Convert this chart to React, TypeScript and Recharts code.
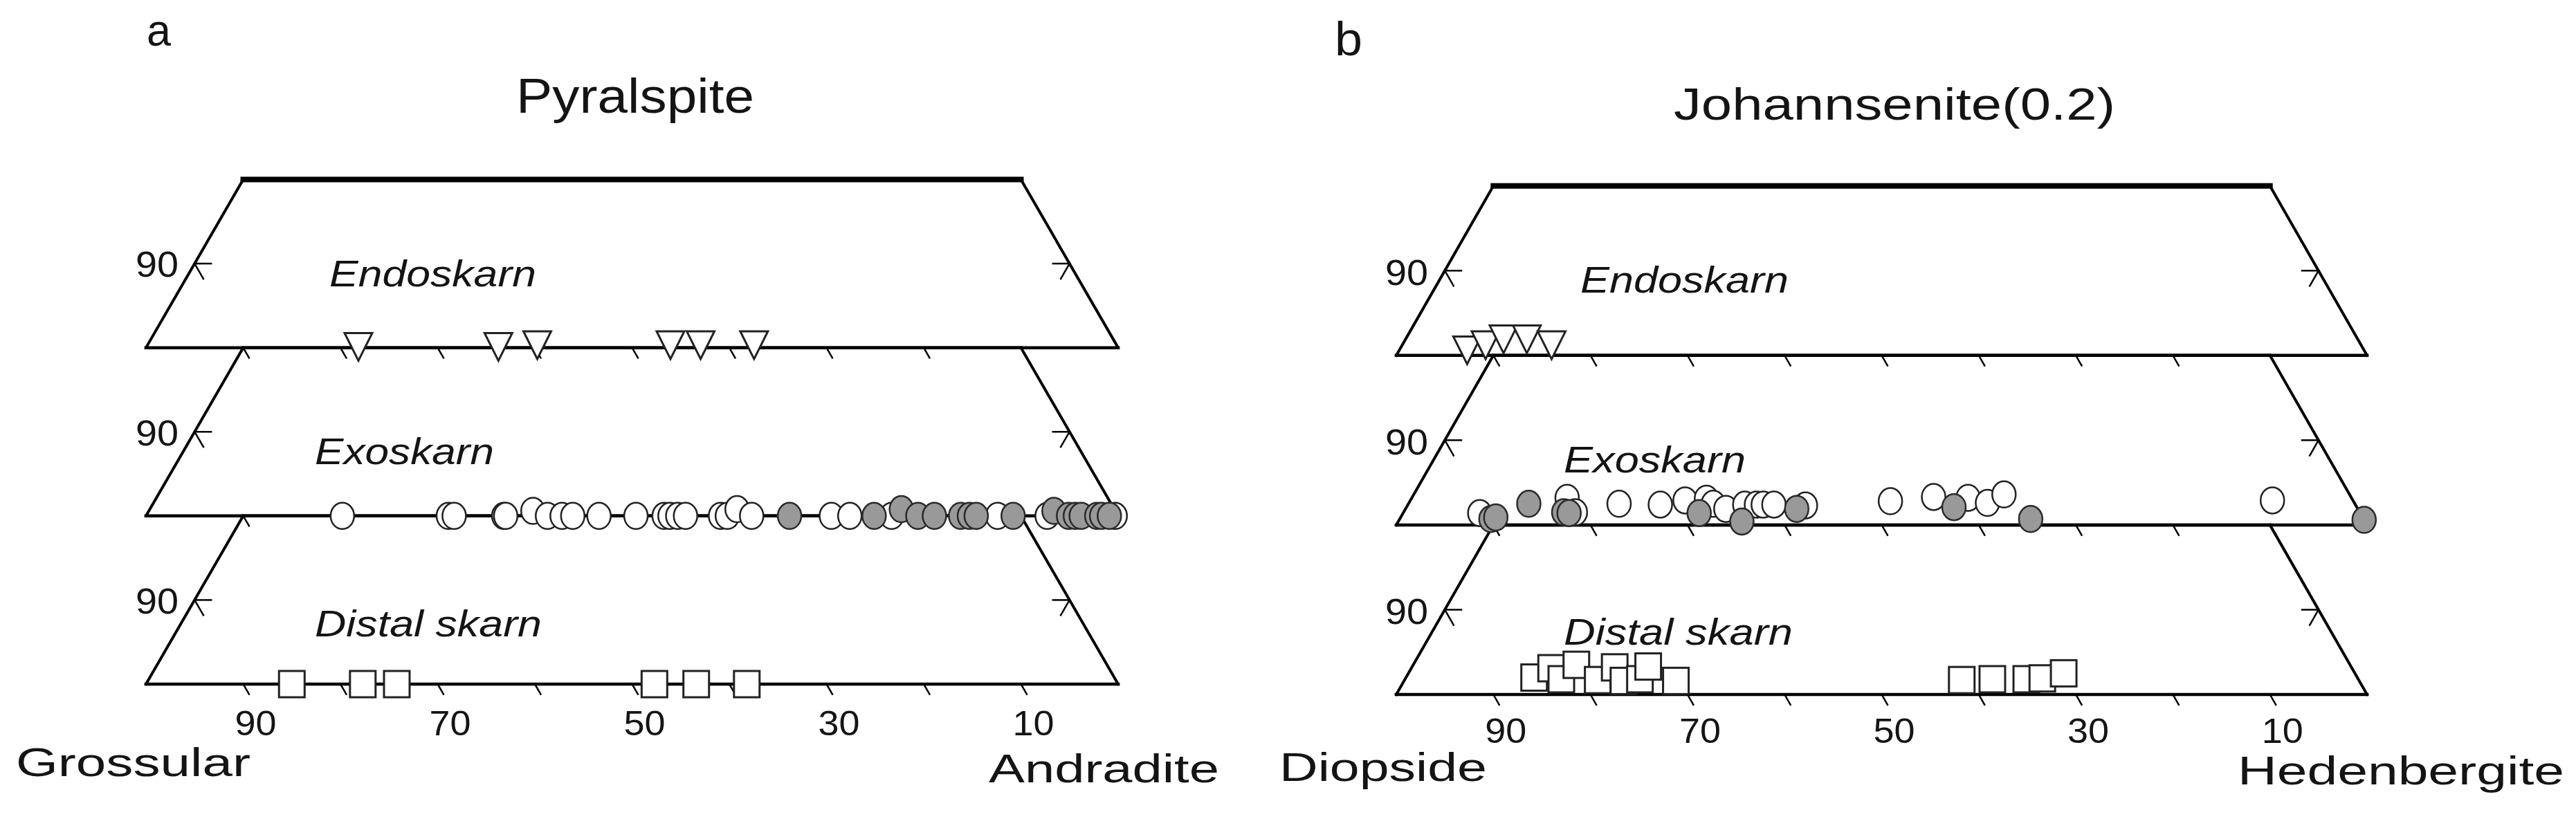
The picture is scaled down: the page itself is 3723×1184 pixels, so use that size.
import React from 'react';
import { ScatterChart, Scatter, XAxis, YAxis, ReferenceLine } from 'recharts';

const K = Math.sqrt(3) / 2;
const SLAB = 20; // apex percentage covered by one slab

// ---------- Panel a: garnet  [Grossular %, Pyralspite %] ----------
const grtEndoskarn = [[78.1, 0.1], [63.7, 0.1], [59.6, 0.3], [45.9, 0.3], [42.8, 0.3], [37.3, 0.3]];
const grtExoOpen = [
  [79.8, 0], [68.9, 0], [68.3, 0], [63.2, 0], [63.0, 0], [59.9, 0.6], [58.7, 0], [57.2, 0], [56.1, 0],
  [53.4, 0], [49.6, 0], [46.7, 0], [46.1, 0], [45.3, 0], [44.5, 0], [40.9, 0], [40.2, 0], [38.8, 0.8],
  [37.7, 0], [29.5, 0], [27.6, 0], [23.3, 0], [12.4, 0], [7.3, 0], [0.3, 0],
];
const grtExoGray = [
  [33.8, 0], [25.1, 0], [21.9, 0.8], [20.6, 0], [18.9, 0], [16.2, 0], [15.3, 0], [14.6, 0], [10.8, 0],
  [6.3, 0.6], [5.1, 0], [4.4, 0], [3.8, 0], [2.2, 0], [1.7, 0], [0.9, 0],
];
const grtDistal = [[85.0, 0], [77.7, 0], [74.2, 0], [47.7, 0], [43.4, 0], [38.2, 0]];

// ---------- Panel b: pyroxene  [Diopside %, Johannsenite %] ----------
const pxEndoskarn = [[92.4, 0.6], [90.2, 1.2], [88.0, 1.9], [85.6, 1.9], [83.4, 1.2]];
const pxExoOpen = [
  [90.7, 1.4], [80.8, 3.2], [80.8, 1.5], [75.8, 2.5], [71.6, 2.4], [68.8, 2.9], [66.5, 3.1], [66.1, 2.5],
  [65.1, 1.9], [62.9, 2.4], [61.7, 2.4], [61.0, 2.4], [59.9, 2.4], [56.7, 2.3], [47.7, 2.8], [43.0, 3.3],
  [39.5, 3.2], [37.8, 2.6], [35.6, 3.6], [8.3, 2.9],
];
const pxExoGray = [
  [89.9, 0.7], [89.3, 0.9], [85.1, 2.5], [82.0, 1.5], [81.5, 1.4], [68.1, 1.4], [64.2, 0.4], [57.8, 1.9],
  [41.5, 2.1], [34.3, 0.7], [0, 0.6],
];
const pxDistal = [
  [84.8, 2.0], [82.5, 3.1], [82.1, 1.8], [79.7, 3.5], [78.4, 1.7], [75.9, 3.2], [75.8, 1.6], [74.0, 1.8],
  [72.4, 3.3], [70.4, 1.6], [40.9, 1.7], [37.7, 1.8], [34.2, 1.8], [32.5, 1.9], [30.0, 2.5],
];

const baseTicks = [10, 20, 30, 40, 50, 60, 70, 80, 90];
const labelTicks = [90, 70, 50, 30, 10]; // end-member % shown under the bottom base
const slabNames = ['Distal skarn', 'Exoskarn', 'Endoskarn'];

const FONT = '"Liberation Sans", Arial, sans-serif';

const toPts = (rows: number[][], slab: number) =>
  rows.map(([end, apex]) => ({ x: 100 - end - apex / 2, y: (slab * SLAB + apex) * K }));

const Tri = (p: any) => {
  const { cx, cy } = p;
  return (
    <path d={`M${cx - 20},${cy - 20} L${cx + 20},${cy - 20} L${cx},${cy + 20} Z`} fill="#fff" stroke="#222" strokeWidth={3} />
  );
};
const OpenCircle = (p: any) => <ellipse cx={p.cx} cy={p.cy} rx={17} ry={19} fill="#fff" stroke="#222" strokeWidth={2.5} />;
const GrayCircle = (p: any) => <ellipse cx={p.cx} cy={p.cy} rx={17} ry={19} fill="#999" stroke="#2a2a2a" strokeWidth={2.5} />;
const Square = (p: any) => <rect x={p.cx - 18.5} y={p.cy - 19} width={37} height={38} fill="#fff" stroke="#222" strokeWidth={3} />;

type Seg = { a: [number, number]; b: [number, number]; w: number };

function frameSegments(): Seg[] {
  const segs: Seg[] = [];
  for (let s = 0; s < 3; s++) {
    const by = s * SLAB * K;
    const ty = by + SLAB * K;
    const my = by + (SLAB / 2) * K;
    segs.push({ a: [0, by], b: [100, by], w: 4.5 });
    segs.push({ a: [10, ty], b: [90, ty], w: s === 2 ? 8 : 4.5 });
    segs.push({ a: [0, by], b: [10, ty], w: 4 });
    segs.push({ a: [100, by], b: [90, ty], w: 4 });
    baseTicks.forEach((t) => segs.push({ a: [t, by], b: [t + 0.6, by - 1.2 * K], w: 2.5 }));
    segs.push({ a: [5, my], b: [6.7, my], w: 2.5 });
    segs.push({ a: [5, my], b: [5.9, my - 1.8 * K], w: 2.5 });
    segs.push({ a: [95, my], b: [93.3, my], w: 2.5 });
    segs.push({ a: [95, my], b: [94.1, my - 1.8 * K], w: 2.5 });
  }
  return segs;
}

const Txt = ({ x, y, size, len, italic, children }: any) => (
  <text x={x} y={y} fontSize={size} textLength={len} lengthAdjust="spacingAndGlyphs" fontFamily={FONT}
    fontStyle={italic ? 'italic' : 'normal'} fill="#141414">{children}</text>
);

type PanelProps = {
  width: number;
  xDomain: [number, number];
  yDomain: [number, number];
  endo: any[]; exoOpen: any[]; exoGray: any[]; distal: any[];
  texts: React.ReactNode;
  tickLabelDy: number;
};

function Panel(props: PanelProps) {
  const segs = frameSegments();
  const tickLabelData = labelTicks.map((v) => ({ x: 100 - v, y: 0, label: String(v) }));
  const TickLabel = (p: any) => (
    <text x={p.cx + 18} y={p.cy + props.tickLabelDy} fontSize={50} textAnchor="middle" textLength={60}
      lengthAdjust="spacingAndGlyphs" fontFamily={FONT} fill="#141414">{p.payload.label}</text>
  );
  return (
    <ScatterChart width={props.width} height={1184} margin={{ top: 0, right: 0, bottom: 0, left: 0 }}>
      <XAxis type="number" dataKey="x" domain={props.xDomain} allowDataOverflow hide height={0} />
      <YAxis type="number" dataKey="y" domain={props.yDomain} allowDataOverflow hide width={0} />
      {segs.map((s, i) => (
        <ReferenceLine key={i} segment={[{ x: s.a[0], y: s.a[1] }, { x: s.b[0], y: s.b[1] }]}
          stroke="#000" strokeWidth={s.w} strokeLinecap="square" ifOverflow="visible" />
      ))}
      <Scatter data={tickLabelData} shape={TickLabel} isAnimationActive={false} />
      <Scatter data={props.distal} shape={Square} isAnimationActive={false} />
      <Scatter data={props.exoOpen} shape={OpenCircle} isAnimationActive={false} />
      <Scatter data={props.exoGray} shape={GrayCircle} isAnimationActive={false} />
      <Scatter data={props.endo} shape={Tri} isAnimationActive={false} />
      {props.texts}
    </ScatterChart>
  );
}

export default function App() {
  const OX = 1800; // left offset of panel b chart
  const textsA = (
    <g>
      <Txt x={212} y={66} size={64} len={35}>a</Txt>
      <Txt x={746} y={163} size={70} len={344}>Pyralspite</Txt>
      <Txt x={196} y={400} size={52} len={62}>90</Txt>
      <Txt x={196} y={644} size={52} len={62}>90</Txt>
      <Txt x={196} y={887} size={52} len={62}>90</Txt>
      <Txt x={476} y={414} size={53} len={299} italic>{slabNames[2]}</Txt>
      <Txt x={455} y={671} size={53} len={259} italic>{slabNames[1]}</Txt>
      <Txt x={455} y={920} size={53} len={328} italic>{slabNames[0]}</Txt>
      <Txt x={23} y={1122} size={57} len={339}>Grossular</Txt>
      <Txt x={1429} y={1131} size={57} len={333}>Andradite</Txt>
    </g>
  );
  const textsB = (
    <g>
      <Txt x={1929 - OX} y={80} size={68} len={40}>b</Txt>
      <Txt x={2419 - OX} y={173} size={64} len={638}>Johannsenite(0.2)</Txt>
      <Txt x={2002 - OX} y={412} size={52} len={62}>90</Txt>
      <Txt x={2002 - OX} y={657} size={52} len={62}>90</Txt>
      <Txt x={2002 - OX} y={902} size={52} len={62}>90</Txt>
      <Txt x={2284 - OX} y={423} size={53} len={301} italic>{slabNames[2]}</Txt>
      <Txt x={2260 - OX} y={683} size={53} len={263} italic>{slabNames[1]}</Txt>
      <Txt x={2260 - OX} y={932} size={53} len={331} italic>{slabNames[0]}</Txt>
      <Txt x={1849 - OX} y={1129} size={57} len={300}>Diopside</Txt>
      <Txt x={3234 - OX} y={1134} size={57} len={472}>Hedenbergite</Txt>
    </g>
  );
  return (
    <div style={{ position: 'absolute', left: 0, top: 0, width: 3723, height: 1184, background: '#fff', display: 'flex' }}>
      <Panel width={OX} xDomain={[-211 / 14.05, (OX - 211) / 14.05]} yDomain={[-(1184 - 989) / 14.04, 989 / 14.04]}
        endo={toPts(grtEndoskarn, 2)} exoOpen={toPts(grtExoOpen, 1)} exoGray={toPts(grtExoGray, 1)} distal={toPts(grtDistal, 0)}
        texts={textsA} tickLabelDy={74} />
      <Panel width={3723 - OX} xDomain={[-(2018 - OX) / 14.03, (3723 - 2018) / 14.03]} yDomain={[-(1184 - 1004) / 14.15, 1004 / 14.15]}
        endo={toPts(pxEndoskarn, 2)} exoOpen={toPts(pxExoOpen, 1)} exoGray={toPts(pxExoGray, 1)} distal={toPts(pxDistal, 0)}
        texts={textsB} tickLabelDy={70} />
    </div>
  );
}
